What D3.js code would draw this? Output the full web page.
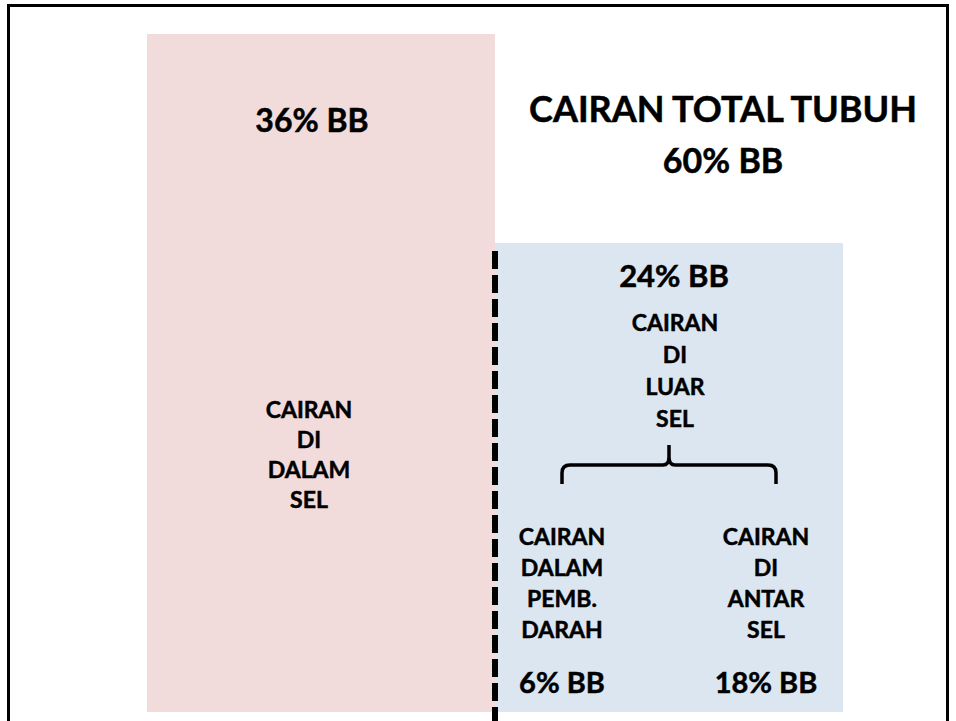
<!DOCTYPE html>
<html>
<head>
<meta charset="utf-8">
<script src="https://cdn.jsdelivr.net/npm/d3@7"></script>
<style>
  html, body { margin: 0; padding: 0; background: #fff; }
  svg { display: block; }
  text { font-family: Lato, "Open Sans", sans-serif; font-weight: bold; fill: #000; stroke: #000; stroke-width: 0.5px; }
</style>
</head>
<body>
<svg id="chart" width="956" height="721"></svg>
<script>
// ---- data ----
const compartments = ["dalam", "luar"];
const compartmentValues = [36, 24];          // % BB
const compartmentValueLabels = ["36% BB", "24% BB"];
const compartmentLabels = [["CAIRAN", "DI", "DALAM", "SEL"], ["CAIRAN", "DI", "LUAR", "SEL"]];
const totalTitle = ["CAIRAN TOTAL TUBUH", "60% BB"];
const subCompartments = ["darah", "antar"];
const subValues = [6, 18];
const subValueLabels = ["6% BB", "18% BB"];
const subLabels = [["CAIRAN", "DALAM", "PEMB.", "DARAH"], ["CAIRAN", "DI", "ANTAR", "SEL"]];
const colors = ["#F2DCDB", "#DCE6F1"];

const svg = d3.select("#chart");

// frame
svg.append("rect")
  .attr("x", 8.5).attr("y", 5.5)
  .attr("width", 939).attr("height", 740)
  .attr("fill", "none").attr("stroke", "#000").attr("stroke-width", 3);

// scales
const x = d3.scaleBand().domain(compartments).range([147, 843]).padding(0);
const y = d3.scaleLinear().domain([-2.93, 36]).range([712, 34]);
const xSub = d3.scalePoint().domain(subCompartments).range([562, 766]);

// bars
svg.selectAll("rect.bar")
  .data(compartments)
  .join("rect")
  .attr("class", "bar")
  .attr("x", d => x(d))
  .attr("y", (d, i) => y(compartmentValues[i]))
  .attr("width", x.bandwidth())
  .attr("height", (d, i) => y(y.domain()[0]) - y(compartmentValues[i]))
  .attr("fill", (d, i) => colors[i]);

// dashed divider
svg.append("line")
  .attr("x1", x("luar")).attr("x2", x("luar"))
  .attr("y1", y(compartmentValues[1]) + 8).attr("y2", 721)
  .attr("stroke", "#000").attr("stroke-width", 6)
  .attr("stroke-dasharray", "18,6");

// title
const cxTitle = 723;
svg.append("text").attr("x", cxTitle).attr("y", 122).attr("text-anchor", "middle")
  .style("font-size", "36px").text(totalTitle[0]);
svg.append("text").attr("x", cxTitle).attr("y", 173).attr("text-anchor", "middle")
  .style("font-size", "34px").text(totalTitle[1]);

// value labels for compartments
svg.append("text").attr("x", x("dalam") + x.bandwidth() / 2 - 9).attr("y", 132)
  .attr("text-anchor", "middle").style("font-size", "32px").text(compartmentValueLabels[0]);
svg.append("text").attr("x", x("luar") + x.bandwidth() / 2 + 5).attr("y", 287)
  .attr("text-anchor", "middle").style("font-size", "31px").text(compartmentValueLabels[1]);

// compartment text stacks
function stack(lines, cx, y0, dy, size) {
  svg.append("g").selectAll("text")
    .data(lines).join("text")
    .attr("x", cx).attr("y", (d, i) => y0 + i * dy)
    .attr("text-anchor", "middle").style("font-size", size + "px")
    .text(d => d);
}
stack(compartmentLabels[0], x("dalam") + x.bandwidth() / 2 - 12, 418, 30, 23);
stack(compartmentLabels[1], x("luar") + x.bandwidth() / 2 + 6, 331, 32, 23);

// sub compartments
subCompartments.forEach((s, i) => {
  stack(subLabels[i], xSub(s), 545, 31, 23);
  svg.append("text").attr("x", xSub(s)).attr("y", 693)
    .attr("text-anchor", "middle").style("font-size", "29px").text(subValueLabels[i]);
});

// brace
const bL = xSub("darah"), bR = xSub("antar") + 10, bM = (bL + bR) / 2;
const p = d3.path();
p.moveTo(bL, 484);
p.lineTo(bL, 473);
p.quadraticCurveTo(bL, 465, bL + 8, 465);
p.lineTo(bM - 6, 465);
p.quadraticCurveTo(bM, 465, bM, 457);
p.lineTo(bM, 445);
p.moveTo(bM, 457);
p.quadraticCurveTo(bM, 465, bM + 6, 465);
p.lineTo(bR - 8, 465);
p.quadraticCurveTo(bR, 465, bR, 473);
p.lineTo(bR, 484);
svg.append("path").attr("d", p.toString())
  .attr("fill", "none").attr("stroke", "#000").attr("stroke-width", 3.5);
</script>
</body>
</html>
